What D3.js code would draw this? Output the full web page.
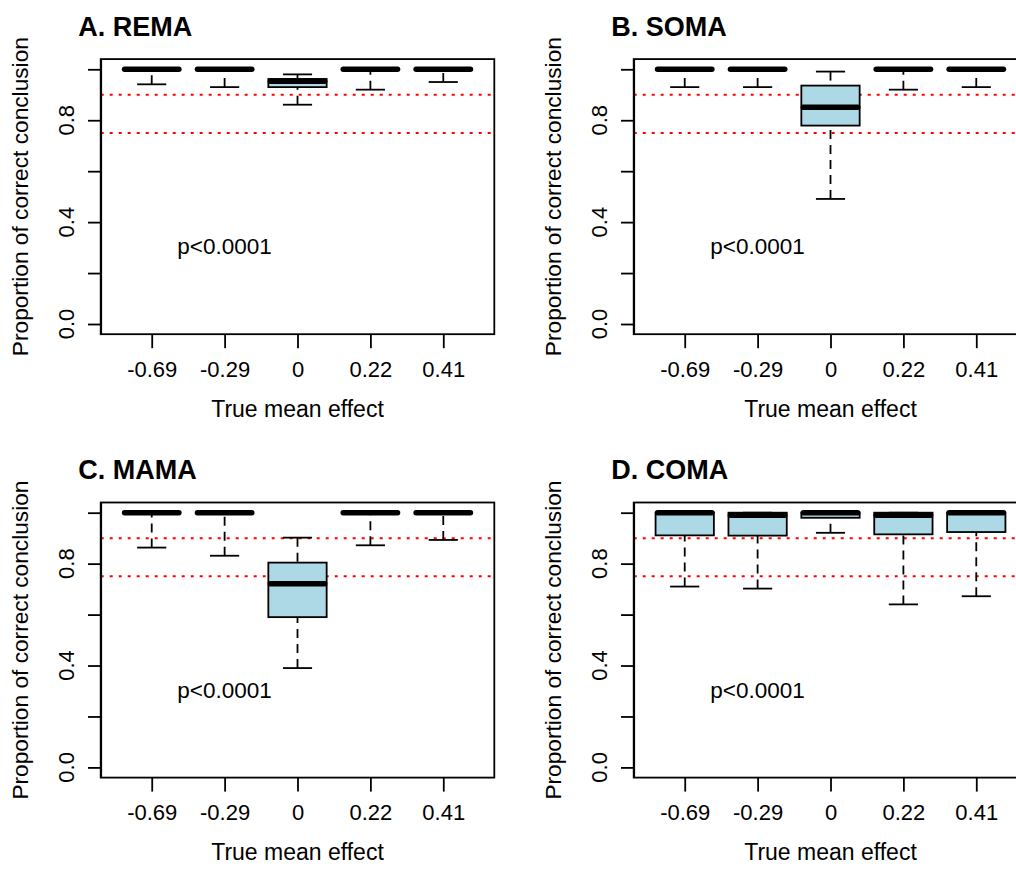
<!DOCTYPE html>
<html>
<head>
<meta charset="utf-8">
<script src="https://cdn.jsdelivr.net/npm/d3@7"></script>
<style>
  body { margin: 0; background: #fff; }
</style>
</head>
<body>
<script>
// categories on the x axis (true mean effect)
const categories = ["-0.69", "-0.29", "0", "0.22", "0.41"];
const panelTitles = ["A. REMA", "B. SOMA", "C. MAMA", "D. COMA"];

// box stats per category: [lower whisker, q1, median, q3, upper whisker]
const remaStats = [
	[0.941, 1, 1, 1, 1],
	[0.930, 1, 1, 1, 1],
	[0.861, 0.930, 0.953, 0.962, 0.980],
	[0.920, 1, 1, 1, 1],
	[0.950, 1, 1, 1, 1]
];
const somaStats = [
	[0.930, 1, 1, 1, 1],
	[0.930, 1, 1, 1, 1],
	[0.491, 0.779, 0.851, 0.936, 0.991],
	[0.920, 1, 1, 1, 1],
	[0.930, 1, 1, 1, 1]
];
const mamaStats = [
	[0.863, 1, 1, 1, 1],
	[0.831, 1, 1, 1, 1],
	[0.390, 0.590, 0.721, 0.804, 0.902],
	[0.872, 1, 1, 1, 1],
	[0.893, 1, 1, 1, 1]
];
const comaStats = [
	[0.710, 0.911, 1.0, 1, 1],
	[0.702, 0.910, 0.990, 1, 1],
	[0.921, 0.980, 1.0, 1, 1],
	[0.640, 0.915, 0.990, 1, 1],
	[0.672, 0.924, 1.0, 1, 1]
];

const refLines = [0.9, 0.75];
const yTicks = [0, 0.2, 0.4, 0.6, 0.8, 1.0];
const yLabelTicks = [0, 0.4, 0.8];
const pText = "p<0.0001";

const width = 1016;
const height = 870;
const font = "'Liberation Sans', Arial, Helvetica, sans-serif";

const svg = d3.select("body")
	.append("svg")
	.attr("width", width)
	.attr("height", height)
	.style("background", "#fff");

const x = d3.scaleLinear().domain([0.3, 5.7]).range([100.7, 494.3]);
const y = d3.scaleLinear().domain([-0.04, 1.04]).range([334.2, 59.1]);

const panels = [
	{stats: remaStats, off: [0, 0]},
	{stats: somaStats, off: [533, 0]},
	{stats: mamaStats, off: [0, 443.4]},
	{stats: comaStats, off: [533, 443.4]}
];

panels.forEach((p, k) => drawPanel(p.stats, panelTitles[k], p.off));

function drawPanel(stats, title, off){
	const g = svg.append("g").attr("transform", `translate(${off[0]},${off[1]})`);
	const [x0, x1] = x.range();

	// red reference lines (under the boxes)
	g.selectAll("line.ref")
		.data(refLines)
		.enter()
		.append("line")
		.attr("x1", x0).attr("x2", x1)
		.attr("y1", d => y(d)).attr("y2", d => y(d))
		.attr("stroke", "#ff0000")
		.attr("stroke-width", 2)
		.attr("stroke-dasharray", "3,6");

	const half = 0.4, staple = 0.2;
	const box = g.selectAll("g.box")
		.data(stats)
		.enter()
		.append("g")
		.attr("class", "box");

	// whiskers start at the whisker end, like R does
	box.append("line")
		.attr("x1", (d, i) => x(i + 1)).attr("x2", (d, i) => x(i + 1))
		.attr("y1", d => y(d[0])).attr("y2", d => y(d[1]))
		.attr("stroke", "#000").attr("stroke-width", 1.8)
		.attr("stroke-dasharray", "9,6");
	box.append("line")
		.attr("x1", (d, i) => x(i + 1)).attr("x2", (d, i) => x(i + 1))
		.attr("y1", d => y(d[4])).attr("y2", d => y(d[3]))
		.attr("stroke", "#000").attr("stroke-width", 1.8)
		.attr("stroke-dasharray", "9,6");

	// staples
	[0, 4].forEach(j => {
		box.append("line")
			.attr("x1", (d, i) => x(i + 1 - staple)).attr("x2", (d, i) => x(i + 1 + staple))
			.attr("y1", d => y(d[j])).attr("y2", d => y(d[j]))
			.attr("stroke", "#000").attr("stroke-width", 1.8);
	});

	box.filter(d => d[3] > d[1])
		.append("rect")
		.attr("x", d => x(stats.indexOf(d) + 1 - half))
		.attr("width", x(1 + half) - x(1 - half))
		.attr("y", d => y(d[3]))
		.attr("height", d => y(d[1]) - y(d[3]))
		.attr("fill", "#add8e6")
		.attr("stroke", "#000")
		.attr("stroke-width", 1.8);

	// median, round ends pulled in so it stays box wide
	box.append("line")
		.attr("x1", (d, i) => x(i + 1 - half) + 2).attr("x2", (d, i) => x(i + 1 + half) - 2)
		.attr("y1", d => y(d[2])).attr("y2", d => y(d[2]))
		.attr("stroke", "#000")
		.attr("stroke-linecap", "round")
		.attr("stroke-width", 5.5);

	// frame
	g.append("rect")
		.attr("x", x0).attr("y", y.range()[1])
		.attr("width", x1 - x0).attr("height", y.range()[0] - y.range()[1])
		.attr("fill", "none")
		.attr("stroke", "#000")
		.attr("stroke-width", 1.8);

	// y axis
	const ya = g.append("g")
		.attr("transform", `translate(${x0},0)`)
		.call(d3.axisLeft(y).tickValues(yTicks).tickSize(12.7).tickSizeOuter(0).tickFormat(""));
	ya.selectAll("line, path").attr("stroke", "#000").attr("stroke-width", 1.8);

	g.selectAll("text.ytick")
		.data(yLabelTicks)
		.enter()
		.append("text")
		.attr("transform", d => `translate(74,${y(d)}) rotate(-90)`)
		.attr("text-anchor", "middle")
		.attr("font-family", font)
		.attr("font-size", 22)
		.text(d => d.toFixed(1));

	// x axis
	const xa = g.append("g")
		.attr("transform", `translate(0,${y.range()[0]})`)
		.call(d3.axisBottom(x).tickValues(d3.range(1, categories.length + 1))
			.tickSize(14).tickSizeOuter(0).tickFormat((d, i) => categories[i]));
	xa.select("path").remove();
	xa.selectAll("line").attr("stroke", "#000").attr("stroke-width", 1.8);
	xa.selectAll("text")
		.attr("y", 376.7 - y.range()[0])
		.attr("dy", null)
		.attr("font-family", font)
		.attr("font-size", 22)
		.attr("fill", "#000");

	// labels
	g.append("text")
		.attr("x", 78.3).attr("y", 35.5)
		.attr("font-family", font)
		.attr("font-weight", "bold")
		.attr("font-size", 27)
		.text(title);

	g.append("text")
		.attr("transform", `translate(28.3,${(y.range()[0] + y.range()[1]) / 2}) rotate(-90)`)
		.attr("text-anchor", "middle")
		.attr("font-family", font)
		.attr("font-size", 22.7)
		.text("Proportion of correct conclusion");

	g.append("text")
		.attr("x", (x0 + x1) / 2).attr("y", 416.7)
		.attr("text-anchor", "middle")
		.attr("font-family", font)
		.attr("font-size", 23)
		.text("True mean effect");

	g.append("text")
		.attr("x", x(2)).attr("y", y(0.3))
		.attr("dy", "0.3em")
		.attr("text-anchor", "middle")
		.attr("font-family", font)
		.attr("font-size", 22.5)
		.text(pText);
}
</script>
</body>
</html>
